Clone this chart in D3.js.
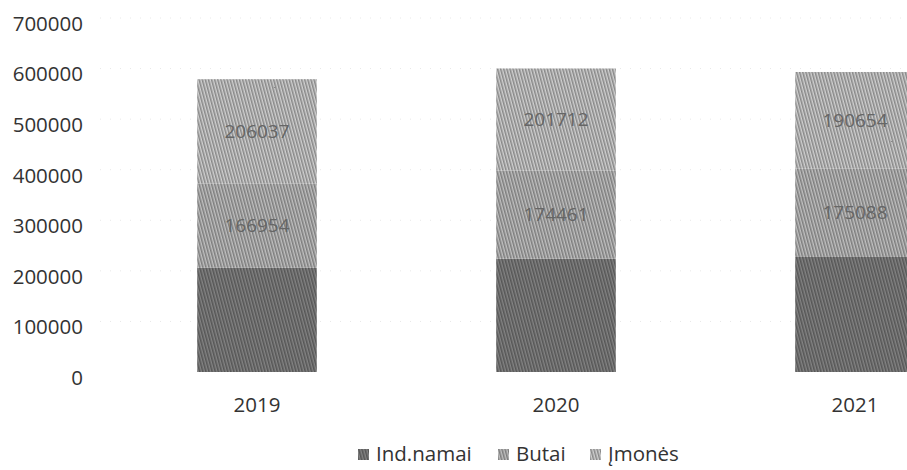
<!DOCTYPE html>
<html>
<head>
<meta charset="utf-8">
<script src="https://cdn.jsdelivr.net/npm/d3@7"></script>
<style>
  body { margin: 0; background: #fff; }
  svg { display: block; font-family: "Open Sans", sans-serif; }
  .tick text { fill: #333; }
</style>
</head>
<body>
<svg id="chart" width="907" height="470"></svg>
<script>
const years = ['2019', '2020', '2021'];
const seriesNames = ['Ind.namai', 'Butai', 'Įmonės'];
const indNamai = [206000, 224000, 227500];
const butai = [166954, 174461, 175088];
const imones = [206037, 201712, 190654];
const yTicks = [0, 100000, 200000, 300000, 400000, 500000, 600000, 700000];

const colors = ['#6a6a6a', '#9b9b9b', '#a8a8a8'];

const rows = years.map((y, i) => ({
  year: y,
  'Ind.namai': indNamai[i],
  'Butai': butai[i],
  'Įmonės': imones[i]
}));

const svg = d3.select('#chart');

// grainy fill to mimic the scanned print
const defs = svg.append('defs');
colors.forEach((c, i) => {
  const p = defs.append('pattern')
    .attr('id', `pat${i}`)
    .attr('patternUnits', 'userSpaceOnUse')
    .attr('width', 3).attr('height', 3)
    .attr('patternTransform', 'rotate(-15)');
  p.append('rect').attr('width', 3).attr('height', 3).attr('fill', c);
  p.append('rect').attr('width', 1).attr('height', 3)
    .attr('fill', d3.color(c).darker(0.6));
  p.append('rect').attr('x', 2).attr('width', 1).attr('height', 3)
    .attr('fill', d3.color(c).brighter(0.6));
});

const x = d3.scaleBand()
  .domain(years)
  .range([107.5, 1004.5])
  .paddingInner(0.6)
  .paddingOuter(0.3);

const y = d3.scaleLinear()
  .domain([0, 700000])
  .range([372, 18]);

// faint gridlines
svg.append('g')
  .selectAll('line')
  .data(yTicks.slice(1))
  .enter().append('line')
  .attr('x1', 100).attr('x2', 907)
  .attr('y1', d => y(d)).attr('y2', d => y(d))
  .attr('stroke', '#e8e8e8')
  .attr('stroke-dasharray', '1,9');

const yAxis = svg.append('g')
  .attr('transform', 'translate(83,0)')
  .call(d3.axisLeft(y).tickValues(yTicks).tickFormat(d3.format('d')).tickSize(0).tickPadding(0));
yAxis.select('.domain').remove();
yAxis.selectAll('text')
  .attr('dy', '0.6em')
  .style('font-size', '20.5px')
  .style('font-family', '"Open Sans", sans-serif');

const stack = d3.stack().keys(seriesNames)(rows);

const layers = svg.append('g')
  .selectAll('g')
  .data(stack)
  .enter().append('g')
  .attr('fill', (d, i) => `url(#pat${i})`);

layers.selectAll('rect')
  .data(d => d)
  .enter().append('rect')
  .attr('x', d => x(d.data.year))
  .attr('y', d => y(d[1]))
  .attr('width', x.bandwidth())
  .attr('height', d => y(d[0]) - y(d[1]));

// value labels on the upper two segments
stack.slice(1).forEach(layer => {
  svg.append('g')
    .selectAll('text')
    .data(layer)
    .enter().append('text')
    .attr('x', d => x(d.data.year) + x.bandwidth() / 2)
    .attr('y', d => y((d[0] + d[1]) / 2))
    .attr('dy', '0.35em')
    .attr('text-anchor', 'middle')
    .attr('fill', '#666')
    .style('font-size', '19px')
    .text(d => d.data[layer.key]);
});

const xAxis = svg.append('g')
  .attr('transform', 'translate(0,372)')
  .call(d3.axisBottom(x).tickSize(0).tickPadding(0));
xAxis.select('.domain').remove();
xAxis.selectAll('text')
  .attr('y', 40)
  .attr('dy', 0)
  .style('font-size', '20.5px')
  .style('font-family', '"Open Sans", sans-serif');

// legend
const legendX = [358, 498, 590];
const legend = svg.append('g')
  .selectAll('g')
  .data(seriesNames)
  .enter().append('g')
  .attr('transform', (d, i) => `translate(${legendX[i]},449)`);

legend.append('rect')
  .attr('width', 11).attr('height', 11)
  .attr('fill', (d, i) => `url(#pat${i})`);

legend.append('text')
  .attr('x', 18)
  .attr('y', 12)
  .attr('fill', '#333')
  .style('font-size', '20.5px')
  .text(d => d);
</script>
</body>
</html>
